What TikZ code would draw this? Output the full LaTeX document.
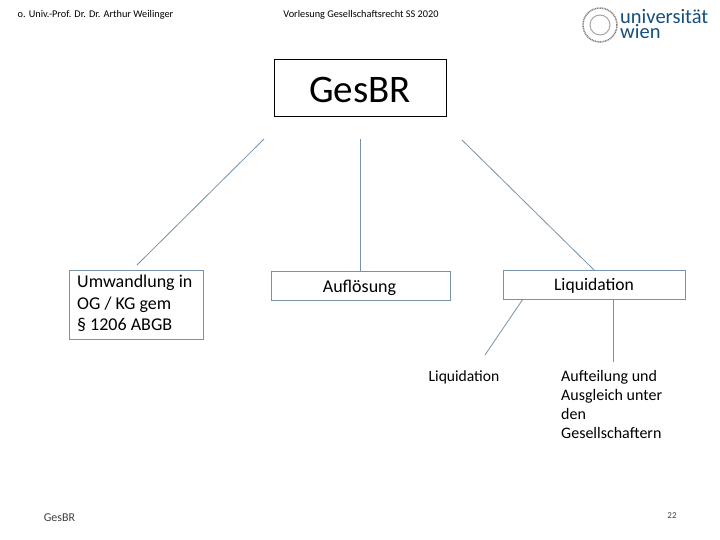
\documentclass[tikz,border=0pt]{standalone}
\usepackage{fontspec}
\setmainfont{Carlito}
\usetikzlibrary{positioning}
\definecolor{boxline}{RGB}{120,146,168}
\definecolor{unilogo}{RGB}{20,80,125}
\tikzset{
  headtext/.style={font=\fontsize{10.3}{12}\selectfont,inner sep=0pt},
  branch/.style={draw=boxline,line width=0.8pt},
  level/.style={draw=boxline,line width=1pt,minimum height=29pt,inner sep=0pt},
  plain/.style={align=left,inner sep=0pt,font=\fontsize{18}{21.5}\selectfont},
}
\begin{document}
\begin{tikzpicture}[x=1pt,y=-1pt]
    \useasboundingbox[fill=white] (0,0) rectangle (720,540);
    % header
    \node[headtext] (author) at (95.5,15) {o. Univ.-Prof. Dr. Dr. Arthur Weilinger};
    \node[headtext] (lecture) at (361,15) {Vorlesung Gesellschaftsrecht SS 2020};
    % logo
    \node[draw=gray,circle,line width=1.5pt,dash pattern=on 1pt off 0.7pt,minimum size=34pt,inner sep=0pt] (seal) at (600,25) {};
    \node[draw=gray!70,circle,line width=1pt,minimum size=20pt,inner sep=0pt] (sealin) at (seal) {};
    \node[inner sep=0pt,text=unilogo,font=\fontsize{20.5}{15}\selectfont,anchor=base west] (uni) at (620,23.5) {universität};
    \node[inner sep=0pt,text=unilogo,font=\fontsize{20.5}{15}\selectfont,anchor=base west] (wien) at (620,38.5) {wien};
    % boxes
    \node[draw=black,line width=1pt,minimum width=172pt,minimum height=57pt,inner sep=0pt] (gesbr) at (360,88.5) {};
    \node[inner sep=0pt,font=\fontsize{39}{42}\selectfont] (gesbrtext) at (360,89.5) {GesBR};
    \node[draw=boxline,line width=1pt,minimum width=134pt,minimum height=69pt,inner sep=0pt] (umw) at (136,304.5) {};
    \node[plain,anchor=north west] (umwtext) at (77,275) {Umwandlung in\\OG / KG gem\\§ 1206 ABGB};
    \node[level,minimum width=179pt] (aufl) at (360.5,286) {};
    \node[inner sep=0pt,font=\fontsize{18}{20}\selectfont] (afltext) at (359.5,288) {Auflösung};
    \node[level,minimum width=182pt] (liq) at (594,285) {};
    \node[inner sep=0pt,font=\fontsize{17.6}{20}\selectfont] (liqbox) at (594,286) {Liquidation};
    % lower texts
    \node[inner sep=0pt,font=\fontsize{15.6}{18}\selectfont] (liqtext) at (464,377) {Liquidation};
    \node[anchor=north west,align=left,inner sep=0pt,font=\fontsize{16}{19}\selectfont] (auft) at (561,370.5) {Aufteilung und\\Ausgleich unter\\den\\Gesellschaftern};
    % connectors
    \coordinate (a1) at (264,139);
    \coordinate (a2) at (137,265);
    \coordinate (b1) at (360,139);
    \coordinate (c1) at (462,140);
    \coordinate (c2) at (594,270);
    \coordinate (d1) at (523,299);
    \coordinate (d2) at (485,355);
    \coordinate (e1) at (613,299);
    \coordinate (e2) at (613,362);
    \draw[branch] (a1) -- (a2);
    \draw[branch] (b1) -- (b1 |- aufl.north);
    \draw[branch] (c1) -- (c2);
    \draw[branch] (d1) -- (d2);
    \draw[branch] (e1) -- (e2);
    % footer
    \node[inner sep=0pt,font=\fontsize{12}{14}\selectfont,text=black!75] (foot) at (59.5,518) {GesBR};
    \node[inner sep=0pt,font=\fontsize{9}{10}\selectfont,text=black!75] (page) at (672,515.5) {22};
\end{tikzpicture}
\end{document}
